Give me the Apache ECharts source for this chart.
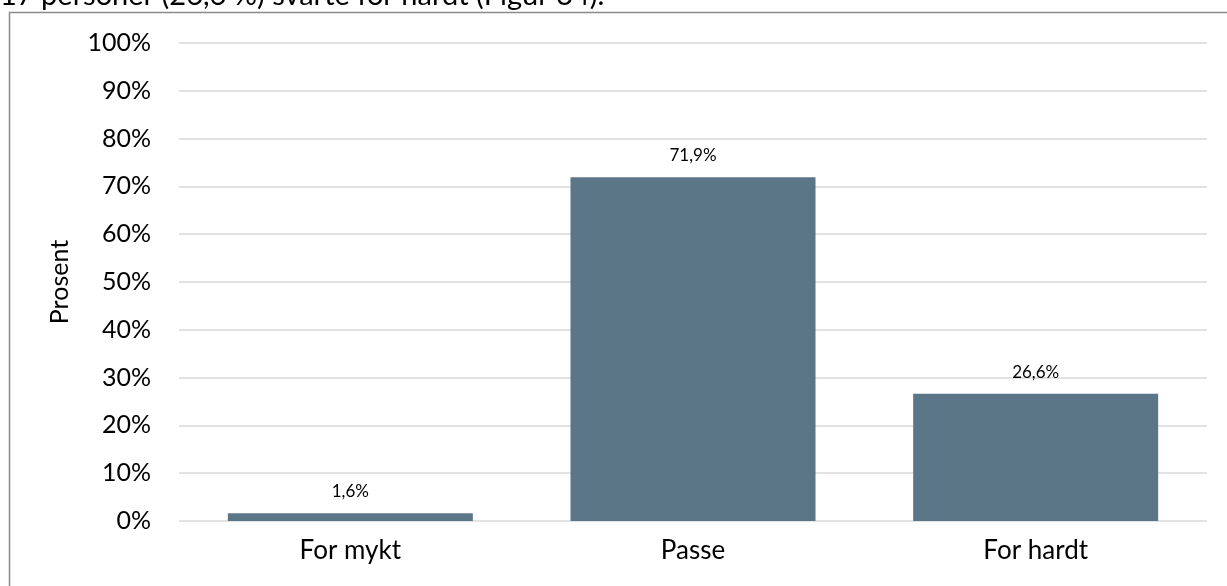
<!DOCTYPE html>
<html>
<head>
<meta charset="utf-8">
<script src="https://cdn.jsdelivr.net/npm/echarts@6/dist/echarts.min.js"></script>
<style>
  html, body { margin: 0; padding: 0; background: #fff; }
  #chart { width: 1227px; height: 586px; }
</style>
</head>
<body>
<div id="chart"></div>
<script>
// data
var categories = ['For mykt', 'Passe', 'For hardt']
var values = [1.6, 71.9, 26.6]
var yTicks = [0, 10, 20, 30, 40, 50, 60, 70, 80, 90, 100]
var captionText = '17 personer (26,6 %) svarte for hardt (Figur 34).'

var font = 'Lato, "Noto Sans", sans-serif'

var chart = echarts.init(document.getElementById('chart'))
chart.setOption({
  animation: false,
  backgroundColor: '#fff',
  grid: {
    left: 179,
    right: 20,
    top: 43,
    bottom: 65
  },
  graphic: [
    {
      type: 'text',
      left: 0,
      top: -19,
      style: { text: captionText, font: '29px ' + font, fill: '#000' }
    },
    {
      type: 'polyline',
      shape: { points: [[9.5, 586], [9.5, 12.5], [1227, 12.5]] },
      style: { stroke: '#8a8a8a', lineWidth: 1.5, fill: null }
    }
  ],
  xAxis: {
    type: 'category',
    data: categories,
    axisTick: { show: false },
    axisLine: { show: false },
    axisLabel: {
      color: '#000',
      fontFamily: font,
      fontSize: 26,
      margin: 17
    }
  },
  yAxis: {
    type: 'value',
    min: yTicks[0],
    max: yTicks[yTicks.length - 1],
    interval: 10,
    name: 'Prosent',
    nameLocation: 'middle',
    nameGap: 107,
    nameTextStyle: { color: '#000', fontFamily: font, fontSize: 25 },
    axisLine: { show: false },
    axisTick: { show: false },
    axisLabel: {
      color: '#000',
      fontFamily: font,
      fontSize: 25,
      margin: 28,
      formatter: '{value}%'
    },
    splitLine: { lineStyle: { color: '#d9d9d9', width: 1.5 } }
  },
  series: [
    {
      type: 'bar',
      data: values,
      barWidth: '71.5%',
      itemStyle: { color: '#5b7787' },
      label: {
        show: true,
        position: 'top',
        distance: 13,
        color: '#000',
        fontFamily: font,
        fontSize: 17,
        formatter: function (p) {
          return String(p.value).replace('.', ',') + '%'
        }
      }
    }
  ]
})
</script>
</body>
</html>
